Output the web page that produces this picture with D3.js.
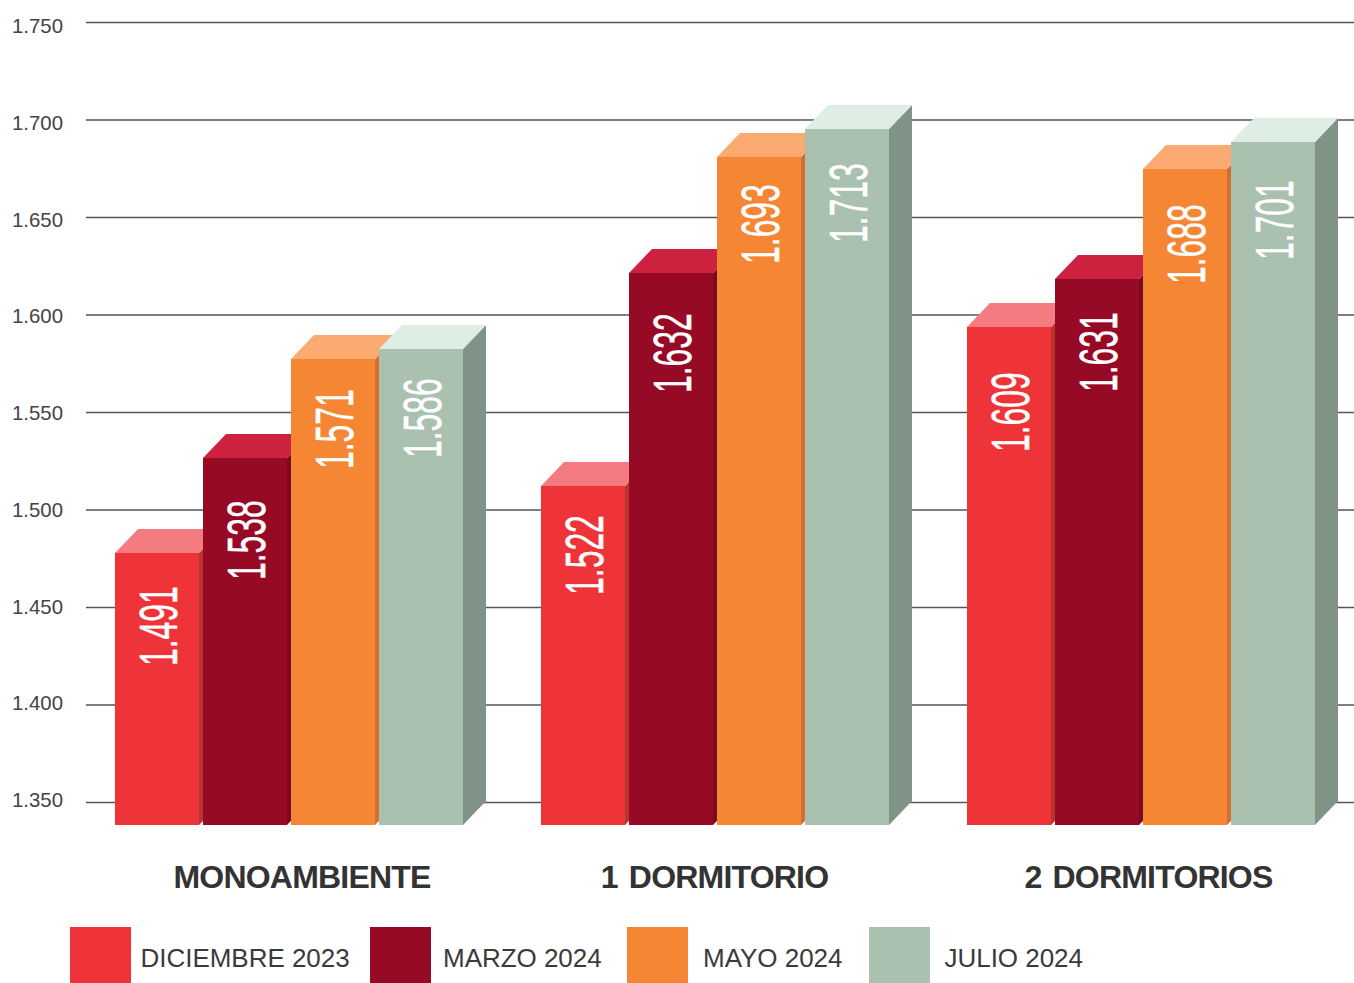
<!DOCTYPE html>
<html lang="es">
<head>
<meta charset="utf-8">
<script src="https://cdn.jsdelivr.net/npm/d3@7/dist/d3.min.js"></script>
<style>
html,body{margin:0;padding:0;background:#fff;overflow:hidden}
svg{display:block}
text{font-family:"Liberation Sans",Arial,sans-serif}
</style>
</head>
<body>
<svg id="chart" width="1354" height="983"></svg>
<script>
// ---- data ----
const groups = ["MONOAMBIENTE", "1 DORMITORIO", "2 DORMITORIOS"];
const seriesNames = ["DICIEMBRE 2023", "MARZO 2024", "MAYO 2024", "JULIO 2024"];
const tickValues = [1350, 1400, 1450, 1500, 1550, 1600, 1650, 1700, 1750];
// printed labels
const labelDic = [1491, 1522, 1609];
const labelMar = [1538, 1632, 1631];
const labelMay = [1571, 1693, 1688];
const labelJul = [1586, 1713, 1701];
// bar heights as they read against the axis (the printed labels differ in the source)
const heightDic = [1477.7, 1512.1, 1593.6];
const heightMar = [1526.4, 1621.3, 1618.2];
const heightMay = [1577.2, 1680.8, 1674.6];
const heightJul = [1582.3, 1695.1, 1688.5];

// ---- layout and style ----
const W = 1354;
const front = ["#ee3339", "#970a26", "#f58634", "#abc1b0"];
const side  = ["#b8352f", "#7a0a20", "#cf6f34", "#7f9486"];
const top_  = ["#f47c80", "#cc2240", "#fbab72", "#dfeee5"];
const depthX = 23, depthY = 24;
const labelDrop = [[113,122,110,109],[109,120,107,114],[125,113,115,118]];
const groupLabelX = [302, 714.5, 1148.5];
const legendSwatchX = [70, 370, 627, 869];
const legendTextX = [140.5, 443, 703, 944.5];

const heights = [heightDic, heightMar, heightMay, heightJul];
const labels = [labelDic, labelMar, labelMay, labelJul];

const es = d3.formatLocale({decimal: ",", thousands: ".", grouping: [3], currency: ["$", ""]});
const fmt = es.format(",d");

const svg = d3.select("#chart");

const y = d3.scaleLinear().domain([1350, 1750]).range([802, 22]);
// the tick labels in the source sit on a slightly tighter spacing than the gridlines
const yTickLabel = d3.scaleLinear().domain([1350, 1750]).range([806.5, 32.5]);
const baseY = 825;
const xGroup = d3.scalePoint().domain(groups).range([115, 967]);
const xBar = d3.scaleBand().domain(seriesNames).range([0, 348]).paddingInner(4 / 88).paddingOuter(0);

// axis + gridlines
const axis = d3.axisLeft(y).tickValues(tickValues).tickFormat(fmt)
  .tickSize(-(W - 86)).tickPadding(23);
const gAxis = svg.append("g").attr("transform", "translate(86,0)").call(axis);
gAxis.select(".domain").remove();
gAxis.selectAll(".tick line").attr("stroke", "#555").attr("stroke-width", 1.3);
gAxis.selectAll(".tick text")
  .attr("dy", d => (yTickLabel(d) - y(d)) + "px").attr("fill", "#444")
  .style("font-family", '"Liberation Sans",Arial,sans-serif').style("font-size", "20.4px");

// bars
const rows = [];
groups.forEach((g, gi) => seriesNames.forEach((s, si) => rows.push({g, gi, s, si,
  v: heights[si][gi], label: labels[si][gi]})));

const bar = svg.append("g").selectAll("g").data(rows).join("g")
  .attr("transform", d => `translate(${xGroup(d.g) + xBar(d.s)},0)`);
const w = xBar.bandwidth();

bar.append("path").attr("fill", d => side[d.si]).attr("d", d => {
  const t = y(d.v);
  return `M${w},${t}L${w + depthX},${t - depthY}L${w + depthX},${baseY - depthY}L${w},${baseY}Z`;
});
bar.append("path").attr("fill", d => top_[d.si]).attr("d", d => {
  const t = y(d.v);
  return `M0,${t}L${depthX},${t - depthY}L${w + depthX},${t - depthY}L${w},${t}Z`;
});
bar.append("rect").attr("fill", d => front[d.si])
  .attr("x", 0).attr("width", w)
  .attr("y", d => y(d.v)).attr("height", d => baseY - y(d.v));

bar.append("text")
  .attr("transform", d => `translate(${w / 2 + 20},${y(d.v) + labelDrop[d.gi][d.si]}) rotate(-90) scale(0.59,1)`)
  .attr("fill", "#fff").attr("stroke", "#fff").attr("stroke-width", 0.5).attr("font-size", 54)
  .text(d => fmt(d.label));

// group labels
svg.append("g").selectAll("text").data(groups).join("text")
  .attr("x", (d, i) => groupLabelX[i]).attr("y", 888)
  .attr("text-anchor", "middle").attr("font-weight", 700)
  .attr("font-size", 32).attr("letter-spacing", -0.8).attr("word-spacing", 3).attr("fill", "#333")
  .text(d => d);

// legend
const leg = svg.append("g");
leg.selectAll("rect").data(seriesNames).join("rect")
  .attr("x", (d, i) => legendSwatchX[i]).attr("y", 927)
  .attr("width", 61).attr("height", 56)
  .attr("fill", (d, i) => front[i]);
leg.selectAll("text").data(seriesNames).join("text")
  .attr("x", (d, i) => legendTextX[i]).attr("y", 967)
  .attr("font-size", 26).attr("letter-spacing", -0.03).attr("fill", "#3a3a3a")
  .text(d => d);
</script>
</body>
</html>
